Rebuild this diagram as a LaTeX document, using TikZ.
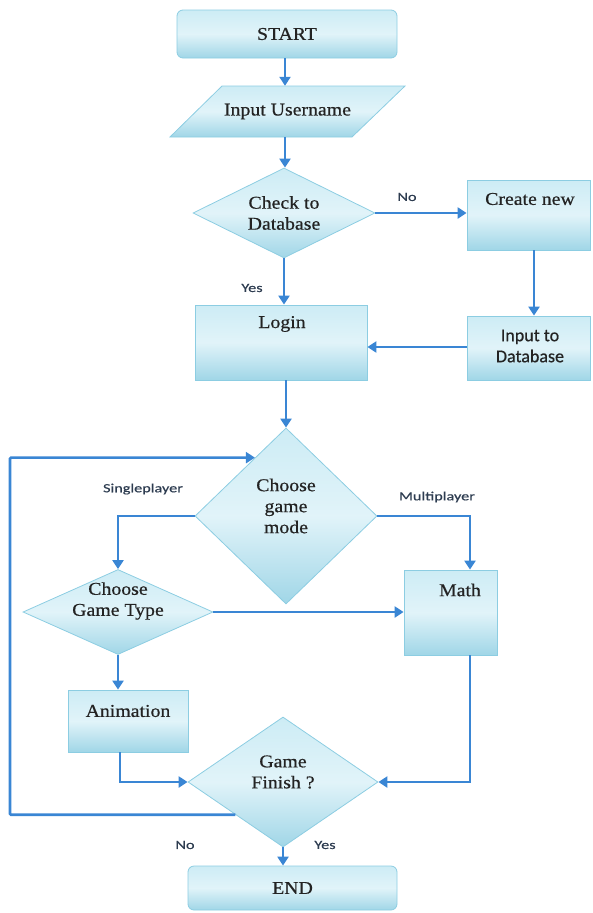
\documentclass[tikz,border=0pt]{standalone}
\usepackage{fontspec}
\setmainfont[FakeStretch=1.1,FakeBold=0.6]{Liberation Serif}
\newfontfamily\lblfont[FakeStretch=1.3,FakeBold=0.4]{Carlito}
\newfontfamily\cfont[FakeBold=0.5]{Carlito}
\usetikzlibrary{shapes.geometric,arrows.meta,calc}
\definecolor{boxtop}{RGB}{205,236,245}
\definecolor{boxbot}{RGB}{160,214,231}
\definecolor{boxline}{RGB}{140,205,226}
\definecolor{arrowblue}{RGB}{58,134,212}
\definecolor{txt}{RGB}{35,35,35}
\definecolor{lbltxt}{RGB}{45,60,80}
\tikzset{
  shade box/.style={top color=boxtop, bottom color=boxbot, middle color=boxtop!60!white, draw=boxline, line width=0.8pt},
  procbox/.style={shade box, rectangle, inner sep=0pt},
  termbox/.style={shade box, rectangle, rounded corners=6pt, inner sep=0pt},
  decbox/.style={shade box, diamond, inner sep=0pt},
  maintext/.style={text=txt, font=\fontsize{18}{21}\selectfont, align=center},
  lbl/.style={text=lbltxt, font=\lblfont\fontsize{12.5}{14}\selectfont},
  flow/.style={draw=arrowblue, line width=2.6pt, -{Triangle[length=9pt,width=11pt]}},
}
\begin{document}
\begin{tikzpicture}[x=1pt,y=-1pt]
\useasboundingbox (0,0) rectangle (592,913);
% nodes
\node[termbox, minimum width=220pt, minimum height=48pt, maintext] (start) at (287,34) {START};
\path[shade box] (222,86) -- (405,86) -- (352,137) -- (170,137) -- cycle;
\node[maintext, minimum width=130pt, minimum height=51pt, inner sep=0pt] (inp) at (287.5,111.5) {Input Username};
\node[decbox, minimum width=182pt, minimum height=90pt, aspect=2] (chk) at (284,213) {};
\node[maintext] (chkt) at (284,213) {Check to\\Database};
\node[procbox, minimum width=123pt, minimum height=70pt] (create) at (528.5,215) {};
\node[maintext] (createt) at (530,199) {Create new};
\node[procbox, minimum width=123pt, minimum height=64pt] (indb) at (528.5,348) {};
\node[maintext, font=\cfont\fontsize{18}{21}\selectfont] (indbt) at (530,346) {Input to\\Database};
\node[procbox, minimum width=172pt, minimum height=75pt] (login) at (281,342.5) {};
\node[maintext] (logint) at (282,324) {Login};
\node[decbox, minimum width=182pt, minimum height=176pt, aspect=1] (mode) at (286,516) {};
\node[maintext] (modet) at (286,506) {Choose\\game\\mode};
\node[decbox, minimum width=190pt, minimum height=85pt, aspect=2.2] (gtype) at (118,612) {};
\node[maintext] (gtypet) at (118,601) {Choose\\Game Type};
\node[procbox, minimum width=93pt, minimum height=85pt] (math) at (450.5,612.5) {};
\node[maintext] (matht) at (460,590) {Math};
\node[procbox, minimum width=120pt, minimum height=62pt] (anim) at (128,721) {};
\node[maintext] (animt) at (128,711) {Animation};
\node[decbox, minimum width=190pt, minimum height=130pt, aspect=1.5] (gf) at (283,782) {};
\node[maintext] (gft) at (283,772) {Game\\Finish ?};
\node[termbox, minimum width=209pt, minimum height=44pt, maintext] (end) at (292.5,888) {END};
% helper coordinates
\coordinate (colx) at (285,0);
\coordinate (mx) at (470,0);
\coordinate (ax) at (120,0);
\coordinate (cx) at (534,0);
\coordinate (lpx) at (10,0);
\coordinate (loopstart) at ($(gf.west)!0.5!(gf.south)$);
\coordinate (loopend) at ($(mode.north)!0.34!(mode.west)$);
% connectors
\draw[flow] (colx |- start.south) -- (colx |- inp.north);
\draw[flow] (colx |- inp.south) -- (colx |- chk.north);
\draw[flow] (chk.east) -- (chk.east -| create.west);
\draw[flow] (cx |- create.south) -- (cx |- indb.north);
\draw[flow] (indb.west |- 0,347) -- (login.east |- 0,347);
\draw[flow] (chk.south) -- (chk.south |- login.north);
\draw[flow] (login.south -| mode.north) -- (mode.north);
\draw[flow] (mode.west) -| (gtype.north);
\draw[flow] (mode.east) -| (mx |- math.north);
\draw[flow] (gtype.east) -- (gtype.east -| math.west);
\draw[flow] (gtype.south) -- (gtype.south |- anim.north);
\draw[flow] (ax |- anim.south) |- (gf.west);
\draw[flow] (mx |- math.south) |- (gf.east);
\draw[flow] (gf.south) -- (gf.south |- end.north);
\draw[flow, rounded corners=1pt] (loopstart) -| (lpx |- loopend) -- (loopend);
% labels
\node[lbl] (lno1) at (407,197) {No};
\node[lbl] (lyes1) at (252,288) {Yes};
\node[lbl] (lsingle) at (143,489) {Singleplayer};
\node[lbl] (lmulti) at (437,497) {Multiplayer};
\node[lbl] (lno2) at (185,845) {No};
\node[lbl] (lyes2) at (325,845) {Yes};
\end{tikzpicture}
\end{document}
